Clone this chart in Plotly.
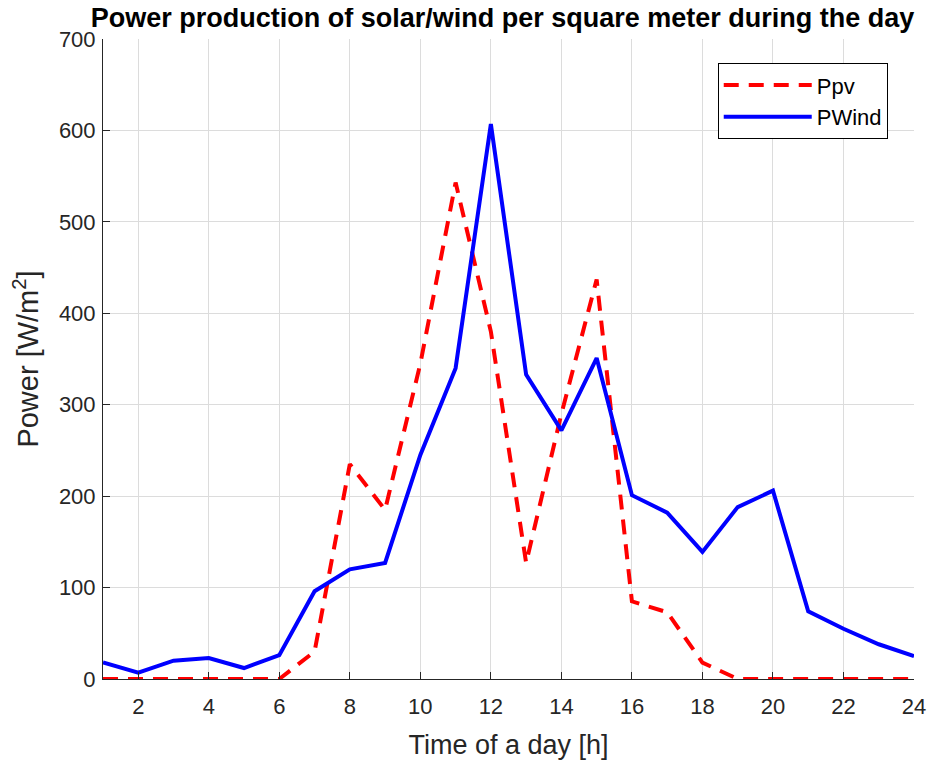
import plotly.graph_objects as go

hours = list(range(1, 25))
p_pv = [0, 0, 0, 0, 0, 0, 30, 235, 185, 345, 543, 380, 127, 290, 437, 85, 73, 18, 0, 0, 0, 0, 0, 0]
p_wind = [18, 7, 20, 23, 12, 26, 96, 120, 127, 245, 340, 607, 333, 272, 351, 201, 182, 139, 188, 206, 74, 55, 38, 25]
x_ticks = list(range(2, 25, 2))
y_ticks = list(range(0, 701, 100))

FONT = "Liberation Sans, Arial, sans-serif"
AX = "#262626"
W, H = 935, 757

fig = go.Figure()
fig.add_trace(go.Scatter(x=hours, y=p_pv, name="Ppv", mode="lines",
                         line=dict(color="#ff0000", width=4, dash="15px,10px")))
fig.add_trace(go.Scatter(x=hours, y=p_wind, name="PWind", mode="lines",
                         line=dict(color="#0000ff", width=4)))

fig.update_layout(
    width=W, height=H,
    margin=dict(l=95, r=29, t=31, b=86),
    paper_bgcolor="white", plot_bgcolor="white",
    font=dict(family=FONT, color=AX),
    title=dict(text="<b>Power production of solar/wind per square meter during the day</b>",
               font=dict(family=FONT, size=27, color="black"),
               xref="container", x=494.5 / W, xanchor="center",
               yref="container", y=1.0, yanchor="top", pad=dict(t=0, b=0)),
    showlegend=True,
    legend=dict(x=0.758, y=0.962, xanchor="left", yanchor="top",
                bgcolor="white", bordercolor="black", borderwidth=1,
                font=dict(family=FONT, size=22, color="black"),
                itemwidth=88, tracegroupgap=0),
)
fig.update_xaxes(range=[1, 24], tickvals=x_ticks, ticktext=[str(v) for v in x_ticks],
                 showgrid=True, gridcolor="#dcdcdc", gridwidth=1,
                 showline=True, linecolor=AX, linewidth=1, mirror=False,
                 ticks="inside", ticklen=7, tickcolor=AX, tickwidth=1,
                 tickfont=dict(family=FONT, size=22, color=AX),
                 ticklabelstandoff=8,
                 zeroline=False, automargin=False,
                 title=dict(text="Time of a day [h]", font=dict(family=FONT, size=27, color=AX), standoff=16))
fig.update_yaxes(range=[0, 700], tickvals=y_ticks, ticktext=[str(v) for v in y_ticks],
                 showgrid=True, gridcolor="#dcdcdc", gridwidth=1,
                 showline=True, linecolor=AX, linewidth=1, mirror=False,
                 ticks="inside", ticklen=7, tickcolor=AX, tickwidth=1,
                 tickfont=dict(family=FONT, size=22, color=AX),
                 ticklabelstandoff=2,
                 zeroline=False, automargin=False,
                 title=dict(text="Power [W/m<sup>2</sup>]", font=dict(family=FONT, size=29, color=AX), standoff=12))

fig.write_html("out.html")
